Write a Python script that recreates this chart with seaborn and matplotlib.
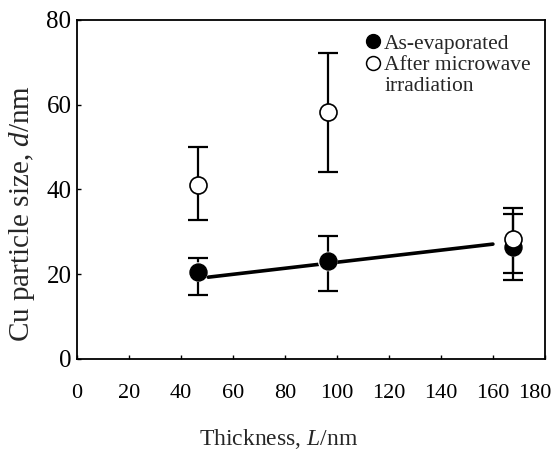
import matplotlib
matplotlib.use("Agg")
import matplotlib.pyplot as plt
import matplotlib.transforms as mtransforms
from matplotlib.lines import Line2D
import seaborn as sns
import pandas as pd

# Data
thickness = [46.5, 96.5, 167.7]
as_evap = [20.5, 23.0, 26.5]
as_evap_lo = [15.0, 16.0, 18.6]
as_evap_hi = [23.8, 29.0, 34.2]
after_mw = [41.0, 58.3, 28.4]
after_mw_lo = [32.7, 44.0, 20.4]
after_mw_hi = [50.0, 72.2, 35.5]
fit_x = [50.5, 160.0]
fit_y = [19.3, 27.1]
x_ticks = [0, 20, 40, 60, 80, 100, 120, 140, 160, 180]
y_ticks = [0, 20, 40, 60, 80]
legend_labels = ["As-evaporated", "After microwave", "irradiation"]

sns.set_theme(style="ticks")
plt.rcParams['font.family'] = ['Liberation Serif', 'DejaVu Serif']
plt.rcParams['mathtext.fontset'] = 'custom'
plt.rcParams['mathtext.it'] = 'Liberation Serif:italic'
plt.rcParams['mathtext.rm'] = 'Liberation Serif'

fig = plt.figure(figsize=(5.6, 4.51), dpi=100)
ax = fig.add_axes([0.1375, 0.204, 0.8355, 0.752])

df_a = pd.DataFrame({"x": thickness, "y": as_evap})
df_b = pd.DataFrame({"x": thickness, "y": after_mw})
df_fit = pd.DataFrame({"x": fit_x, "y": fit_y})

sns.lineplot(data=df_fit, x="x", y="y", ax=ax, color="black", lw=2.6, zorder=1)

err_a = [[v - l for v, l in zip(as_evap, as_evap_lo)], [h - v for v, h in zip(as_evap, as_evap_hi)]]
err_b = [[v - l for v, l in zip(after_mw, after_mw_lo)], [h - v for v, h in zip(after_mw, after_mw_hi)]]
ax.errorbar(thickness, as_evap, yerr=err_a, fmt="none", ecolor="black", elinewidth=1.6, capsize=7, capthick=1.6, zorder=2)
ax.errorbar(thickness, after_mw, yerr=err_b, fmt="none", ecolor="black", elinewidth=1.6, capsize=7, capthick=1.6, zorder=2)

sns.scatterplot(data=df_a, x="x", y="y", ax=ax, s=200, color="white", edgecolor="none", zorder=3, legend=False)
sns.scatterplot(data=df_a, x="x", y="y", ax=ax, s=150, color="black", edgecolor="black", linewidth=1, zorder=4,
                legend=False)
sns.scatterplot(data=df_b, x="x", y="y", ax=ax, s=150, color="white", edgecolor="black", linewidth=1.2, zorder=5,
                legend=False)

ax.set_xlim(0, 180)
ax.set_ylim(0, 80)
ax.set_xticks(x_ticks)
ax.set_yticks(y_ticks)
ax.tick_params(direction="in", length=3, width=1, colors="black")
ax.tick_params(axis="x", labelsize=16, pad=18)
ax.tick_params(axis="y", labelsize=18, pad=4)
for s in ax.spines.values():
    s.set_linewidth(1.3)
    s.set_color("black")
ax.set_xlabel("Thickness, $\\mathit{L}$/nm", fontsize=17)
ax.set_ylabel("Cu particle size, $\\mathit{d}$/nm", fontsize=21)
ax.xaxis.set_label_coords(0.43, -0.2)
ax.yaxis.set_label_coords(-0.085, 0.43)

last = ax.get_xticklabels()[-1]
last.set_transform(last.get_transform() + mtransforms.ScaledTranslation(-7 / 72, 0, fig.dpi_scale_trans))

handles = [
    Line2D([], [], ls="none", marker="o", ms=10, mfc="black", mec="black"),
    Line2D([], [], ls="none", marker="o", ms=10, mfc="white", mec="black", mew=1.1),
    Line2D([], [], ls="none", marker=None),
]
leg = ax.legend(handles, legend_labels, loc="upper right", frameon=False, fontsize=15.5,
                handletextpad=0.0, borderaxespad=0.35, borderpad=0.3, labelspacing=0.05,
                handlelength=1.0)
fig.savefig("out.png", dpi=100)
